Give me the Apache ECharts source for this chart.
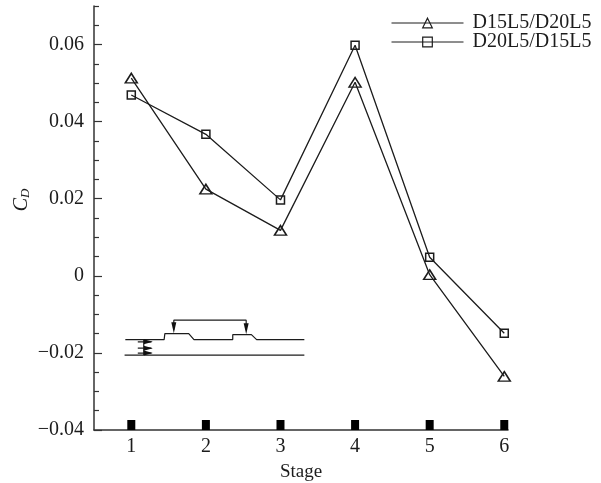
<!DOCTYPE html>
<html><head><meta charset="utf-8">
<style>html,body{margin:0;padding:0;background:#fff}#c{width:601px;height:483px}</style>
<script src="https://cdn.jsdelivr.net/npm/echarts@6/dist/echarts.min.js"></script>
</head><body><div id="c"></div>
<script>
const stages = [1, 2, 3, 4, 5, 6];
const d15d20 = [0.0513, 0.0225, 0.0118, 0.0502, 0.0003, -0.0261];
const d20d15 = [0.0469, 0.0367, 0.0197, 0.0598, 0.0048, -0.0149];
const yMajor = [-0.04, -0.02, 0, 0.02, 0.04, 0.06];
const yMinor = [-0.035, -0.03, -0.025, -0.015, -0.01, -0.005, 0.005, 0.01, 0.015, 0.025, 0.03, 0.035, 0.045, 0.05, 0.055, 0.065, 0.07];
// inset schematic, in data units
const wallUpper = [[0.92,-0.01655],[1.44,-0.01655],[1.45,-0.0150],[1.77,-0.0150],[1.84,-0.01655],[2.36,-0.01655],[2.36,-0.01526],[2.61,-0.01526],[2.68,-0.01655],[3.32,-0.01655]];
const wallLower = [[0.91,-0.02057],[3.32,-0.02057]];
const probeLink = [[1.57,-0.0140],[1.57,-0.0115],[2.54,-0.0115],[2.54,-0.0140]];
const probeTips = [[1.57,-0.01345],[2.54,-0.0137]];
const inflowBar = [[1.167,-0.01668],[1.167,-0.02057]];
const inflowA = [[1.087,-0.01712],[1.27,-0.01712]];
const inflowB = [[1.087,-0.01876],[1.27,-0.01876]];
const inflowC = [[1.087,-0.02005],[1.27,-0.02005]];
const inflowTips = [[1.228,-0.01712],[1.228,-0.01876],[1.228,-0.02005]];

const FONT = '"Liberation Serif","Times New Roman",serif';
const INK = '#1c1c1c';
const fmt = v => { if (Math.abs(v) < 1e-9) return '0'; return (v < 0 ? '\u2212' : '') + Math.abs(v).toFixed(2); };
const thin = (name, data) => ({ type:'line', name, data, symbol:'none', silent:true, animation:false, lineStyle:{color:INK,width:1.2}, z:1 });
const marks = (name, data, rot, size) => ({ type:'scatter', name, data, symbol:'triangle', symbolRotate:rot, symbolSize:size, silent:true, animation:false, itemStyle:{color:'#111',opacity:1}, z:2 });
const curve = (name, data, sym, size) => ({
  type:'line', name, data: stages.map((s,i)=>[s,data[i]]), symbol:sym, symbolSize:size, showAllSymbol:true, animation:false,
  lineStyle:{color:INK,width:1.3}, itemStyle:{color:'transparent',borderColor:INK,borderWidth:1.5}, z:3
});

const chart = echarts.init(document.getElementById('c'), null, {renderer:'canvas'});
chart.setOption({
  backgroundColor:'#fff',
  animation:false,
  textStyle:{fontFamily:FONT,color:INK},
  grid:{left:94,right:93,top:6,bottom:53,outerBoundsMode:'none'},
  legend:{
    data:['D15L5/D20L5','D20L5/D15L5'], orient:'vertical', left:386, top:8, itemWidth:72, itemHeight:12, itemGap:-1,
    textStyle:{fontFamily:FONT,fontSize:20,lineHeight:12,color:INK,padding:[0,0,0,4]},
    itemStyle:{borderWidth:1.2},
    lineStyle:{width:1}
  },
  xAxis:{
    type:'value', min:0.5, max:6.05, name:'Stage', nameLocation:'middle', nameGap:33,
    nameTextStyle:{fontFamily:FONT,fontSize:19,color:INK},
    axisLine:{show:true,onZero:false,lineStyle:{color:'#333',width:1.5}},
    axisTick:{show:false}, splitLine:{show:false},
    axisLabel:{customValues:stages,margin:7,fontFamily:FONT,fontSize:20,color:INK,formatter:v=>String(v)}
  },
  yAxis:[{
    type:'value', min:-0.04, max:0.07, position:'left',
    name:'{c|C}{d|D}', nameLocation:'middle', nameGap:62, nameRotate:90, nameMoveOverlap:false,
    nameTextStyle:{padding:[0,0,0,36],align:'center',rich:{c:{fontFamily:FONT,fontStyle:'italic',fontSize:20,color:INK},d:{fontFamily:FONT,fontStyle:'italic',fontSize:13,color:INK,verticalAlign:'bottom',padding:[8,0,0,0]}}},
    axisLine:{show:true,onZero:false,lineStyle:{color:'#333',width:1.5}},
    axisTick:{show:true,inside:true,length:8,customValues:yMajor,lineStyle:{color:'#333',width:1.2}},
    splitLine:{show:false},
    axisLabel:{customValues:yMajor,margin:10,fontFamily:FONT,fontSize:20,color:INK,formatter:fmt}
  },{
    type:'value', min:-0.04, max:0.07, position:'left',
    axisLine:{show:false},
    axisTick:{show:true,inside:true,length:5,customValues:yMinor,lineStyle:{color:'#333',width:1.2}},
    splitLine:{show:false},
    axisLabel:{show:false}
  }],
  series:[
    curve('D15L5/D20L5', d15d20, 'triangle', [12,9.5]),
    curve('D20L5/D15L5', d20d15, 'rect', 8),
    { type:'scatter', name:'stageMarks', data:stages.map(s=>[s,-0.04]), symbol:'rect', symbolSize:[8,10], symbolOffset:[0,-5], clip:false, silent:true, animation:false, itemStyle:{color:'#000',opacity:1}, z:2 },
    thin('wallUpper', wallUpper), thin('wallLower', wallLower), thin('probeLink', probeLink),
    thin('inflowBar', inflowBar), thin('inflowA', inflowA), thin('inflowB', inflowB), thin('inflowC', inflowC),
    marks('probeTips', probeTips, 180, [5,11]),
    marks('inflowTips', inflowTips, -90, [5,9])
  ]
});
</script></body></html>
